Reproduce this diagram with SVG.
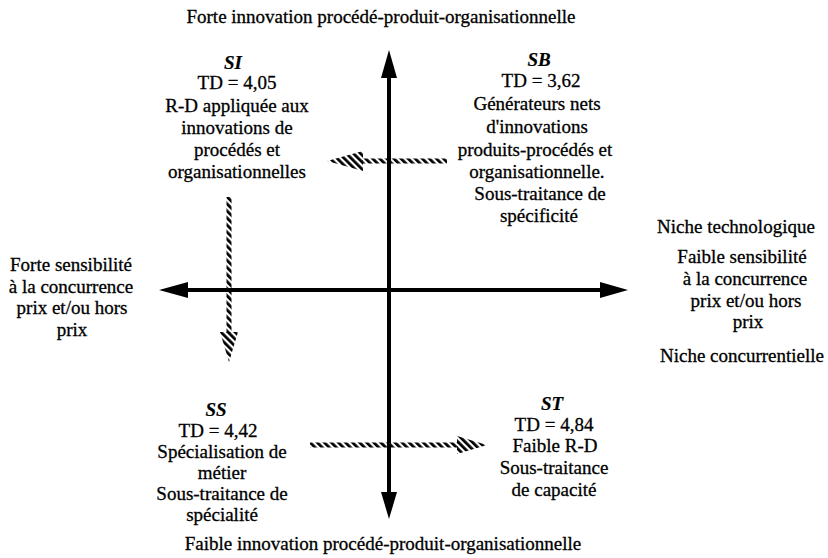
<svg xmlns="http://www.w3.org/2000/svg" width="828" height="558" viewBox="0 0 828 558">
<defs>
<style>
text{font-family:"Liberation Serif","Times New Roman",serif;font-size:19px;fill:#000;text-anchor:middle;stroke:#000;stroke-width:0.3}
.lab{font-weight:bold;font-style:italic;font-size:19px;stroke-width:0.2}
.axis{fill:#000}
</style>
<pattern id="hatch" patternUnits="userSpaceOnUse" width="5" height="5" patternTransform="rotate(-45)"><rect width="2.8" height="5" fill="#000"/></pattern>
</defs>
<rect width="828" height="558" fill="#fff"/>
<g id="connectors">
  <g id="axis-v" class="axis">
    <rect x="387" y="76" width="4" height="418"/>
    <polygon points="389,50 381,78 397,78"/>
    <polygon points="389,519 381,492 397,492"/>
  </g>
  <g id="axis-h" class="axis">
    <rect x="186" y="288" width="416" height="4"/>
    <polygon points="159,290 188,282 188,298"/>
    <polygon points="628,290 600,282 600,298"/>
  </g>
  <g id="hatch-top">
    <rect x="362" y="158.5" width="85" height="5" fill="url(#hatch)"/>
    <polygon points="327,161 363,151 363,171" fill="url(#hatch)"/>
  </g>
  <g id="hatch-left">
    <rect x="226.5" y="197" width="5" height="136" fill="url(#hatch)"/>
    <polygon points="229,362 220,332 238,332" fill="url(#hatch)"/>
  </g>
  <g id="hatch-bottom">
    <rect x="310" y="442.5" width="148" height="5" fill="url(#hatch)"/>
    <polygon points="487,445 457,436 457,454" fill="url(#hatch)"/>
  </g>
</g>
<g id="top-label"><text x="381" y="23">Forte innovation procédé-produit-organisationnelle</text></g>
<g id="bottom-label"><text x="383" y="550">Faible innovation procédé-produit-organisationnelle</text></g>
<g id="left-label">
  <text x="71" y="271">Forte sensibilité</text>
  <text x="71" y="293">à la concurrence</text>
  <text x="72" y="314">prix et/ou hors</text>
  <text x="72" y="336">prix</text>
</g>
<g id="right-label">
  <text x="736" y="233">Niche technologique</text>
  <text x="742" y="263">Faible sensibilité</text>
  <text x="745" y="285">à la concurrence</text>
  <text x="746" y="307">prix et/ou hors</text>
  <text x="748" y="328">prix</text>
  <text x="742" y="362">Niche concurrentielle</text>
</g>
<g id="SI">
  <text class="lab" x="233" y="69">SI</text>
  <text x="237" y="89">TD = 4,05</text>
  <text x="237" y="112">R-D appliquée aux</text>
  <text x="237" y="134">innovations de</text>
  <text x="237" y="156">procédés et</text>
  <text x="237" y="178">organisationnelles</text>
</g>
<g id="SB">
  <text class="lab" x="539" y="66">SB</text>
  <text x="541" y="87">TD = 3,62</text>
  <text x="537" y="110">Générateurs nets</text>
  <text x="537" y="133">d'innovations</text>
  <text x="535" y="156">produits-procédés et</text>
  <text x="537" y="178">organisationnelle.</text>
  <text x="540" y="200">Sous-traitance de</text>
  <text x="539" y="222">spécificité</text>
</g>
<g id="SS">
  <text class="lab" x="216" y="416">SS</text>
  <text x="218" y="437">TD = 4,42</text>
  <text x="222" y="458">Spécialisation de</text>
  <text x="222" y="479">métier</text>
  <text x="222" y="500">Sous-traitance de</text>
  <text x="222" y="521">spécialité</text>
</g>
<g id="ST">
  <text class="lab" x="552" y="410">ST</text>
  <text x="554" y="431">TD = 4,84</text>
  <text x="555" y="452">Faible R-D</text>
  <text x="554" y="474">Sous-traitance</text>
  <text x="554" y="496">de capacité</text>
</g>
</svg>
